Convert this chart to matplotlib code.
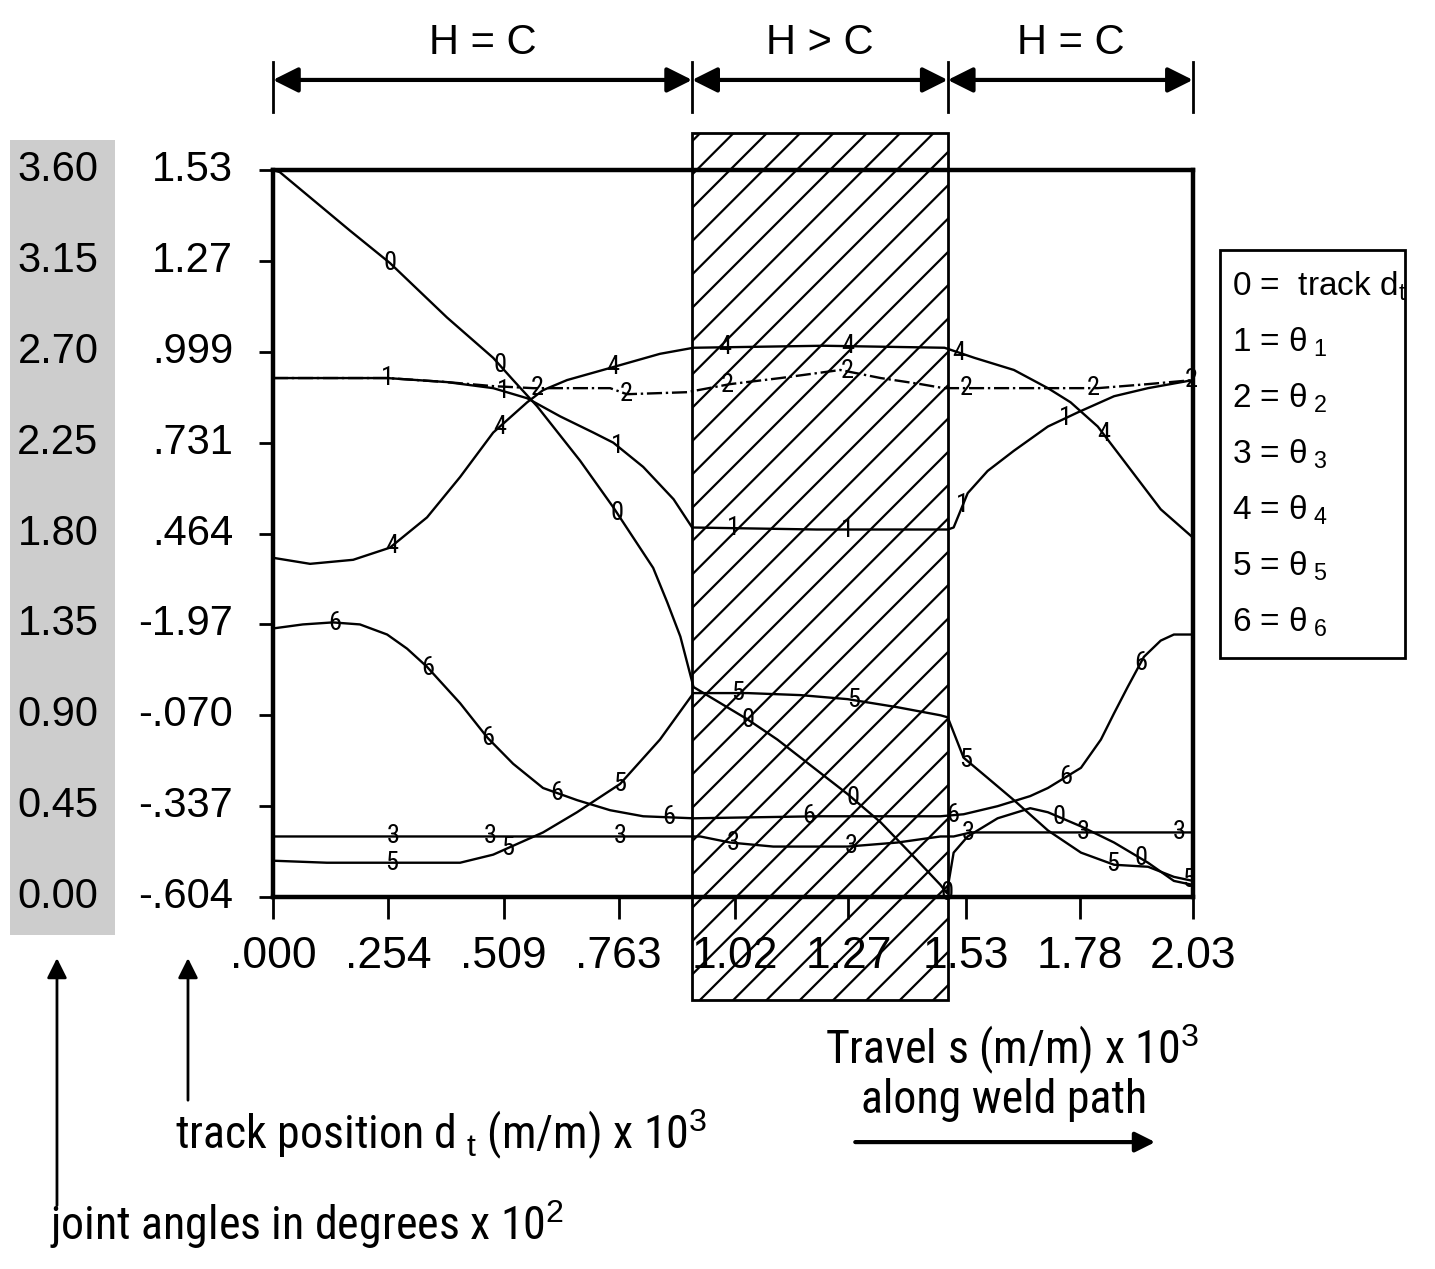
import numpy as np
import matplotlib.pyplot as plt
import matplotlib.transforms as mtransforms
from matplotlib.patches import Rectangle
from matplotlib.lines import Line2D

plt.rcParams['font.family'] = ['Liberation Sans', 'DejaVu Sans']
plt.rcParams['mathtext.fontset'] = 'custom'
plt.rcParams['mathtext.rm'] = 'Liberation Sans'
plt.rcParams['mathtext.it'] = 'Liberation Sans'
plt.rcParams['hatch.linewidth'] = 1.6

# x axis: travel s (m/m) x 10^3
x_ticks = [0.0, 0.254, 0.509, 0.763, 1.02, 1.27, 1.53, 1.78, 2.03]
x_tick_labels = ['.000', '.254', '.509', '.763', '1.02', '1.27', '1.53', '1.78', '2.03']

# y axis: joint angles (deg x 10^2) and track position (m/m x 10^3)
joint_ticks = [0.0, 0.45, 0.90, 1.35, 1.80, 2.25, 2.70, 3.15, 3.60]
joint_labels = ['0.00', '0.45', '0.90', '1.35', '1.80', '2.25', '2.70', '3.15', '3.60']
track_labels = ['-.604', '-.337', '-.070', '-1.97', '.464', '.731', '.999', '1.27', '1.53']

# H = C / H > C / H = C segments
region_edges = [0.0, 0.925, 1.489, 2.03]
region_labels = ['H = C', 'H > C', 'H = C']

# curves (s, value on the joint-angle scale)
s_0 = [0.0, 0.015, 0.17, 0.258, 0.384, 0.486, 0.53, 0.583, 0.678, 0.751, 0.839, 0.87, 0.899,
       0.928, 1.047, 1.113, 1.268, 1.341, 1.414, 1.473, 1.487, 1.502, 1.533, 1.599, 1.671,
       1.71, 1.783, 1.856, 1.931, 1.988, 2.03]
v_0 = [3.60, 3.59, 3.30, 3.14, 2.87, 2.67, 2.56, 2.43, 2.16, 1.93, 1.63, 1.46, 1.29,
       1.04, 0.88, 0.78, 0.51, 0.37, 0.20, 0.06, 0.02, 0.22, 0.30, 0.39, 0.44,
       0.42, 0.35, 0.27, 0.17, 0.08, 0.06]

s_1 = [0.0, 0.252, 0.384, 0.486, 0.561, 0.634, 0.707, 0.751, 0.817, 0.884, 0.925, 1.20, 1.489,
       1.502, 1.533, 1.577, 1.635, 1.71, 1.776, 1.856, 1.931, 2.03]
v_1 = [2.57, 2.57, 2.55, 2.52, 2.47, 2.38, 2.30, 2.25, 2.13, 1.97, 1.83, 1.82, 1.82,
       1.83, 2.00, 2.11, 2.21, 2.33, 2.40, 2.48, 2.52, 2.56]

s_2 = [0.0, 0.252, 0.384, 0.486, 0.574, 0.634, 0.744, 0.781, 0.914, 1.009, 1.12, 1.252, 1.341,
       1.429, 1.48, 1.562, 1.635, 1.71, 1.82, 1.931, 2.03]
v_2 = [2.57, 2.57, 2.55, 2.53, 2.52, 2.52, 2.52, 2.49, 2.50, 2.54, 2.57, 2.61, 2.57,
       2.54, 2.52, 2.52, 2.52, 2.52, 2.52, 2.54, 2.56]

s_3 = [0.0, 0.252, 0.508, 0.762, 0.899, 0.943, 1.009, 1.104, 1.268, 1.378, 1.473, 1.502, 1.54,
       1.76, 2.03]
v_3 = [0.30, 0.30, 0.30, 0.30, 0.30, 0.30, 0.27, 0.25, 0.25, 0.27, 0.30, 0.30, 0.32,
       0.32, 0.32]

s_4 = [0.0, 0.082, 0.177, 0.258, 0.340, 0.413, 0.486, 0.561, 0.596, 0.649, 0.744, 0.854, 0.928,
       1.215, 1.482, 1.548, 1.635, 1.71, 1.76, 1.82, 1.871, 1.915, 1.959, 2.03]
v_4 = [1.68, 1.65, 1.67, 1.73, 1.88, 2.08, 2.30, 2.45, 2.51, 2.56, 2.62, 2.69, 2.72,
       2.73, 2.72, 2.67, 2.61, 2.52, 2.45, 2.33, 2.18, 2.05, 1.92, 1.78]

s_5 = [0.0, 0.119, 0.252, 0.413, 0.486, 0.596, 0.671, 0.766, 0.854, 0.928, 1.047, 1.164, 1.268,
       1.378, 1.473, 1.489, 1.524, 1.577, 1.635, 1.71, 1.783, 1.856, 1.931, 1.988, 2.03]
v_5 = [0.18, 0.17, 0.17, 0.17, 0.21, 0.32, 0.42, 0.56, 0.78, 1.01, 1.01, 1.00, 0.98,
       0.94, 0.90, 0.89, 0.69, 0.59, 0.48, 0.33, 0.22, 0.16, 0.15, 0.10, 0.08]

s_6 = [0.0, 0.066, 0.132, 0.192, 0.252, 0.296, 0.34, 0.413, 0.473, 0.53, 0.596, 0.671, 0.744,
       0.817, 0.928, 1.20, 1.473, 1.524, 1.599, 1.671, 1.71, 1.783, 1.827, 1.856, 1.886,
       1.922, 1.959, 1.988, 2.03]
v_6 = [1.33, 1.35, 1.36, 1.35, 1.30, 1.23, 1.14, 0.96, 0.79, 0.66, 0.54, 0.48, 0.43,
       0.40, 0.39, 0.40, 0.40, 0.41, 0.45, 0.50, 0.54, 0.64, 0.78, 0.91, 1.04,
       1.19, 1.27, 1.30, 1.30]

# where the curve numbers are written along each curve (s values)
marks_0 = [0.258, 0.501, 0.76, 1.049, 1.279, 1.487, 1.734, 1.915]
marks_1 = [0.252, 0.508, 0.76, 1.016, 1.268, 1.522, 1.749]
marks_2 = [0.583, 0.78, 1.003, 1.268, 1.529, 1.811, 2.026]
marks_3 = [0.265, 0.479, 0.766, 1.016, 1.275, 1.535, 1.789, 1.999]
marks_4 = [0.263, 0.501, 0.75, 0.998, 1.268, 1.513, 1.833]
marks_5 = [0.263, 0.517, 0.766, 1.025, 1.281, 1.529, 1.853, 2.021]
marks_6 = [0.137, 0.342, 0.475, 0.627, 0.873, 1.182, 1.50, 1.749, 1.915]

legend_texts = ['0 =  track d$_t$', '1 = θ$_{\\ 1}$', '2 = θ$_{\\ 2}$', '3 = θ$_{\\ 3}$',
                '4 = θ$_{\\ 4}$', '5 = θ$_{\\ 5}$', '6 = θ$_{\\ 6}$']

curves = [(s_0, v_0, marks_0, '-'), (s_1, v_1, marks_1, '-'), (s_2, v_2, marks_2, '-.'),
          (s_3, v_3, marks_3, '-'), (s_4, v_4, marks_4, '-'), (s_5, v_5, marks_5, '-'),
          (s_6, v_6, marks_6, '-')]

condensed = ['Roboto Condensed', 'Liberation Sans']

fig = plt.figure(figsize=(14.35, 12.69), dpi=100)
ax = fig.add_axes([0.1902, 0.2931, 0.6411, 0.5729])
ax.set_xlim(0, 2.03)
ax.set_ylim(0, 3.6)

# hatched H > C band, running past the frame
band = Rectangle((region_edges[1], -0.142), region_edges[2] - region_edges[1], 1.193,
                 transform=ax.get_xaxis_transform(), fill=False, hatch='/',
                 edgecolor='black', lw=2, clip_on=False, zorder=1)
ax.add_patch(band)

for k, (s, v, marks, ls) in enumerate(curves):
    ax.plot(s, v, color='black', lw=1.7, ls=ls, zorder=3, clip_on=False)
    for m in marks:
        ax.text(m, np.interp(m, s, v), str(k), ha='center', va='center', fontsize=19,
                family=condensed, zorder=4, clip_on=False)

for side in ['top', 'bottom', 'left', 'right']:
    ax.spines[side].set_linewidth(3.2)

ax.set_xticks(x_ticks)
ax.set_xticklabels(x_tick_labels)
ax.tick_params(axis='x', direction='out', length=16, width=2, pad=12, labelsize=32)
ax.set_yticks(joint_ticks)
ax.set_yticklabels([])
ax.tick_params(axis='y', direction='out', length=10, width=2)

# two columns of y labels
trans = mtransforms.blended_transform_factory(fig.transFigure, ax.transData)
fig.patches.append(Rectangle((0.007, 0.263), 0.073, 0.6265, transform=fig.transFigure,
                             facecolor='#cdcdcd', edgecolor='none', zorder=0))
for v, jl, tl in zip(joint_ticks, joint_labels, track_labels):
    fig.text(0.0404, v, jl, transform=trans, ha='center', va='center', fontsize=30)
    fig.text(0.1624, v, tl, transform=trans, ha='right', va='center', fontsize=30)

# top segment arrows
top = mtransforms.blended_transform_factory(ax.transData, fig.transFigure)
for i in range(3):
    ax.annotate('', xy=(region_edges[i + 1], 0.937), xycoords=('data', 'figure fraction'),
                xytext=(region_edges[i], 0.937), textcoords=('data', 'figure fraction'),
                arrowprops=dict(arrowstyle='<|-|>', lw=3, color='black', mutation_scale=38,
                                shrinkA=0, shrinkB=0), annotation_clip=False)
    ax.text((region_edges[i] + region_edges[i + 1]) / 2, 0.966, region_labels[i],
            transform=top, ha='center', va='center', fontsize=30)
for e in region_edges:
    ax.add_line(Line2D([e, e], [0.912, 0.951], transform=top, color='black', lw=2,
                       clip_on=False))

# legend box
fig.patches.append(Rectangle((0.850, 0.4815), 0.129, 0.3215, transform=fig.transFigure,
                             fill=False, edgecolor='black', lw=2))
leg_y = np.linspace(0.774, 0.510, len(legend_texts))
for t, y in zip(legend_texts, leg_y):
    fig.text(0.8585, y, t, ha='left', va='center', fontsize=24)

# axis captions and arrows
arrow = dict(arrowstyle='-|>', lw=2, color='black', mutation_scale=30, shrinkA=0, shrinkB=0)
fig.add_artist(plt.Annotation('', xy=(0.0397, 0.245), xycoords='figure fraction',
                              xytext=(0.0397, 0.05), arrowprops=arrow))
fig.add_artist(plt.Annotation('', xy=(0.131, 0.245), xycoords='figure fraction',
                              xytext=(0.131, 0.133), arrowprops=arrow))
fig.add_artist(plt.Annotation('', xy=(0.805, 0.100), xycoords='figure fraction',
                              xytext=(0.596, 0.100), arrowprops=dict(arrow, lw=3)))

fig.text(0.035, 0.035, 'joint angles in degrees x 10$^2$', ha='left', va='center',
         fontsize=33, family=condensed)
fig.text(0.122, 0.106, 'track position d$_{\\ t}$ (m/m) x 10$^3$', ha='left', va='center',
         fontsize=33, family=condensed)
fig.text(0.705, 0.173, 'Travel s (m/m) x 10$^3$', ha='center', va='center',
         fontsize=33, family=condensed)
fig.text(0.700, 0.133, 'along weld path', ha='center', va='center',
         fontsize=33, family=condensed)

fig.savefig('out.png', dpi=100)
